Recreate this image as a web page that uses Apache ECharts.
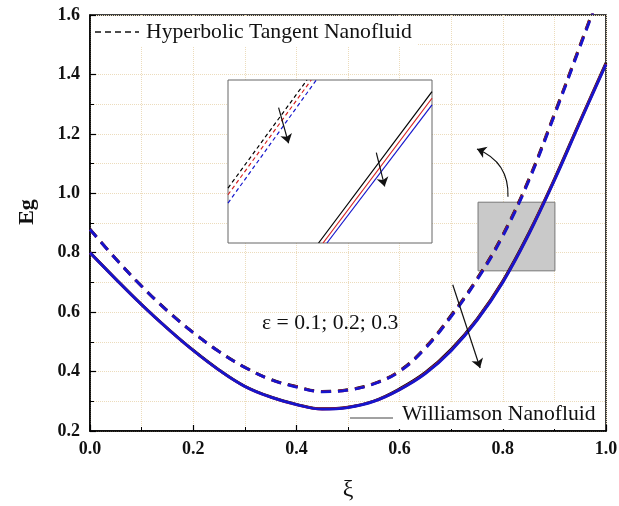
<!DOCTYPE html>
<html>
<head>
<meta charset="utf-8">
<script src="https://cdn.jsdelivr.net/npm/echarts@6/dist/echarts.min.js"></script>
<style>
html,body{margin:0;padding:0;background:#fff;}
#chart{width:619px;height:506px;}
</style>
</head>
<body>
<div id="chart"></div>
<script>
// xi values
var xi = [0, 0.05, 0.1, 0.15, 0.2, 0.25, 0.3, 0.35, 0.4, 0.45, 0.5, 0.55, 0.6, 0.65, 0.7, 0.75, 0.8, 0.85, 0.9, 0.95, 1.0];

// Williamson nanofluid (solid), eps = 0.1 / 0.2 / 0.3
var willEps1 = [0.801, 0.712, 0.626, 0.546, 0.472, 0.406, 0.351, 0.315, 0.290, 0.275, 0.2805, 0.301, 0.342, 0.397, 0.475, 0.577, 0.705, 0.865, 1.048, 1.245, 1.439];
var willEps2 = [0.800, 0.711, 0.625, 0.545, 0.471, 0.405, 0.350, 0.314, 0.289, 0.274, 0.2795, 0.300, 0.340, 0.395, 0.472, 0.574, 0.702, 0.862, 1.045, 1.242, 1.436];
var willEps3 = [0.800, 0.711, 0.625, 0.545, 0.471, 0.405, 0.350, 0.314, 0.289, 0.2735, 0.279, 0.2995, 0.339, 0.393, 0.470, 0.572, 0.700, 0.860, 1.043, 1.240, 1.434];

// Hyperbolic tangent nanofluid (dashed)
var hypEps1 = [0.879, 0.780, 0.688, 0.605, 0.532, 0.468, 0.415, 0.374, 0.350, 0.3335, 0.339, 0.360, 0.403, 0.482, 0.590, 0.713, 0.861, 1.046, 1.268, 1.500, 1.734];
var hypEps2 = [0.878, 0.779, 0.687, 0.604, 0.531, 0.467, 0.414, 0.373, 0.349, 0.3325, 0.338, 0.359, 0.401, 0.480, 0.587, 0.710, 0.858, 1.043, 1.265, 1.497, 1.731];
var hypEps3 = [0.878, 0.779, 0.687, 0.604, 0.531, 0.467, 0.414, 0.373, 0.348, 0.332, 0.3375, 0.358, 0.400, 0.478, 0.585, 0.708, 0.855, 1.040, 1.262, 1.494, 1.728];

// zoomed inset (normalised 0..1 coords)
var insetHyp1 = [[0, 0.337], [0.387, 1]];
var insetHyp2 = [[0, 0.296], [0.408, 1]];
var insetHyp3 = [[0, 0.245], [0.433, 1]];
var insetWill1 = [[0.444, 0], [1, 0.929]];
var insetWill2 = [[0.466, 0], [1, 0.888]];
var insetWill3 = [[0.485, 0], [1, 0.847]];

// annotations (data coords)
var zoomBox = [[0.752, 0.970], [0.901, 0.739]];
var mainArrow = [[0.703, 0.692], [0.756, 0.412]];
var curvedArrow = [[0.810, 0.988], [0.750, 1.149]];
var insetArrowA = [[0.248, 0.831], [0.297, 0.612]];
var insetArrowB = [[0.727, 0.555], [0.768, 0.347]];

var xTicks = { min: 0, max: 1, interval: 0.2 };
var yTicks = { min: 0.2, max: 1.6, interval: 0.2 };

var colors = ['#000000', '#d42020', '#1515cc'];
var serif = '"Liberation Serif", "Times New Roman", serif';

function pairs(ys) {
	return xi.map(function (x, i) { return [x, ys[i]]; });
}

var myChart = echarts.init(document.getElementById('chart'));

var gridLine = { show: true, lineStyle: { color: '#ecdcbc', type: 'dotted', width: 1 } };

function mainSeries(name, ys, color, dashed) {
	return {
		name: name,
		type: 'line',
		data: pairs(ys),
		smooth: 0.4,
		showSymbol: false,
		symbol: 'none',
		lineStyle: { color: color, width: 2.8, type: dashed ? [10, 7] : 'solid' },
		z: 3
	};
}

function insetSeries(pts, color, dashed) {
	return {
		type: 'line',
		xAxisIndex: 1,
		yAxisIndex: 1,
		data: pts,
		showSymbol: false,
		symbol: 'none',
		lineStyle: { color: color, width: 1.2, type: dashed ? [4, 3] : 'solid' },
		z: 8
	};
}

function arrow(coords, axis, curve) {
	return {
		type: 'lines',
		coordinateSystem: 'cartesian2d',
		xAxisIndex: axis,
		yAxisIndex: axis,
		symbol: ['none', 'arrow'],
		symbolSize: 9,
		lineStyle: { color: '#111', width: 1.2, curveness: curve || 0, opacity: 1 },
		data: [{ coords: coords }],
		z: 9
	};
}

var option = {
	animation: false,
	backgroundColor: '#fff',
	grid: [
		{ left: 90, top: 15, width: 516, height: 416, outerBoundsMode: 'none', show: true, borderColor: '#000', borderWidth: 1.5 },
		{ left: 228, top: 80, width: 204, height: 163, outerBoundsMode: 'none', show: true, backgroundColor: '#fff', borderColor: '#666', borderWidth: 1, z: 5 }
	],
	xAxis: [
		{
			type: 'value', gridIndex: 0,
			min: xTicks.min, max: xTicks.max, interval: xTicks.interval,
			axisLine: { show: true, lineStyle: { color: '#000', width: 1.5 } },
			axisTick: { show: true, inside: true, length: 6, lineStyle: { color: '#000', width: 1.2 } },
			minorTick: { show: true, splitNumber: 2, length: 4, lineStyle: { color: '#000', width: 1 } },
			splitLine: gridLine,
			minorSplitLine: gridLine,
			axisLabel: {
				formatter: function (v) { return v.toFixed(1); },
				fontFamily: serif, fontWeight: 'bold', fontSize: 18, color: '#111', margin: 9
			},
			name: 'ξ', nameLocation: 'middle', nameGap: 47,
			nameTextStyle: { fontFamily: serif, fontSize: 24, color: '#111' }
		},
		{ type: 'value', gridIndex: 1, min: 0, max: 1, show: false }
	],
	yAxis: [
		{
			type: 'value', gridIndex: 0,
			min: yTicks.min, max: yTicks.max, interval: yTicks.interval,
			axisLine: { show: true, lineStyle: { color: '#000', width: 1.5 } },
			axisTick: { show: true, inside: true, length: 6, lineStyle: { color: '#000', width: 1.2 } },
			minorTick: { show: true, splitNumber: 2, length: 4, lineStyle: { color: '#000', width: 1 } },
			splitLine: gridLine,
			minorSplitLine: gridLine,
			axisLabel: {
				formatter: function (v) { return v.toFixed(1); },
				fontFamily: serif, fontWeight: 'bold', fontSize: 18, color: '#111', margin: 10
			}
		},
		{ type: 'value', gridIndex: 1, min: 0, max: 1, show: false }
	],
	series: [
		{
			type: 'line', data: [], silent: true, z: 2,
			markArea: {
				silent: true,
				itemStyle: { color: '#c9c9c9', borderColor: '#777', borderWidth: 1 },
				data: [[{ coord: zoomBox[0] }, { coord: zoomBox[1] }]]
			}
		},
		mainSeries('hyp eps 0.1', hypEps1, colors[0], true),
		mainSeries('hyp eps 0.2', hypEps2, colors[1], true),
		mainSeries('hyp eps 0.3', hypEps3, colors[2], true),
		mainSeries('will eps 0.1', willEps1, colors[0], false),
		mainSeries('will eps 0.2', willEps2, colors[1], false),
		mainSeries('will eps 0.3', willEps3, colors[2], false),
		insetSeries(insetHyp1, colors[0], true),
		insetSeries(insetHyp2, colors[1], true),
		insetSeries(insetHyp3, colors[2], true),
		insetSeries(insetWill1, colors[0], false),
		insetSeries(insetWill2, colors[1], false),
		insetSeries(insetWill3, colors[2], false),
		arrow(mainArrow, 0, 0),
		arrow(curvedArrow, 0, -0.35),
		arrow(insetArrowA, 1, 0),
		arrow(insetArrowB, 1, 0)
	],
	graphic: [
		{ type: 'rect', shape: { x: 91, y: 17, width: 326, height: 30 }, style: { fill: '#fff' }, z: 9 },
		{ type: 'line', shape: { x1: 95, y1: 32, x2: 139, y2: 32 }, style: { stroke: '#111', lineWidth: 1.6, lineDash: [6, 4] }, z: 10 },
		{ type: 'text', x: 146, y: 32, style: { text: 'Hyperbolic Tangent Nanofluid', font: '21.7px ' + serif, fill: '#111', textVerticalAlign: 'middle' }, z: 10 },
		{ type: 'rect', shape: { x: 398, y: 403, width: 203, height: 26 }, style: { fill: '#fff' }, z: 9 },
		{ type: 'line', shape: { x1: 350, y1: 418, x2: 393, y2: 418 }, style: { stroke: '#444', lineWidth: 1 }, z: 10 },
		{ type: 'text', x: 402, y: 414, style: { text: 'Williamson Nanofluid', font: '21.7px ' + serif, fill: '#111', textVerticalAlign: 'middle' }, z: 10 },
		{ type: 'text', x: 262, y: 323, style: { text: 'ε = 0.1; 0.2; 0.3', font: '21.7px ' + serif, fill: '#111', textVerticalAlign: 'middle' }, z: 10 },
		{ type: 'text', x: 27, y: 212, rotation: Math.PI / 2, style: { text: 'Eg', font: 'bold 22px ' + serif, fill: '#111', textAlign: 'center', textVerticalAlign: 'middle' }, z: 10 }
	]
};

myChart.setOption(option);
window.addEventListener('resize', function () {
	myChart.resize();
});
</script>
</body>
</html>
